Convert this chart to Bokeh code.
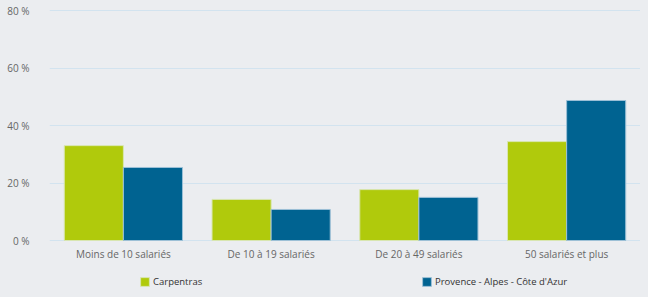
from bokeh.plotting import figure
from bokeh.models import ColumnDataSource, FactorRange, Range1d, Legend, LegendItem, FixedTicker, CustomJSTickFormatter
from bokeh.core.properties import value
from bokeh.transform import dodge
from bokeh.embed import file_html
from bokeh.resources import INLINE

categories = ["Moins de 10 salariés", "De 10 à 19 salariés", "De 20 à 49 salariés", "50 salariés et plus"]
carpentras = [33.0, 14.3, 17.7, 34.4]
paca = [25.4, 10.8, 15.0, 48.7]
series_names = ["Carpentras", "Provence - Alpes - Côte d'Azur"]
y_ticks = [0, 20, 40, 60, 80]

source = ColumnDataSource(dict(cat=categories, carp=carpentras, paca=paca, base=[0] * len(categories)))

p = figure(width=640, height=289, x_range=FactorRange(*categories, range_padding=0),
           y_range=Range1d(-17.04, 83.48), output_backend="svg", toolbar_location=None,
           min_border_left=49, min_border_right=0, min_border_top=0, min_border_bottom=0)
p.background_fill_color = "#ebedf0"
p.border_fill_color = "#ebedf0"
p.outline_line_color = None

g = p.vbar(x=dodge("cat", -0.2, range=p.x_range), top="carp", width=0.4, source=source,
           fill_color="#b0ca0c", line_color="#d8e6b0", line_width=1)
b = p.vbar(x=dodge("cat", 0.2, range=p.x_range), top="paca", width=0.4, source=source,
           fill_color="#006391", line_color="#9cc0d6", line_width=1)

p.text(x="cat", y="base", text="cat", source=source, text_align="center", text_baseline="top",
       y_offset=6, text_font=value("Open Sans"), text_font_size="10px", text_color="#666666")

p.xaxis.visible = False
p.xgrid.grid_line_color = None
p.ygrid.grid_line_color = "#d2e3ef"
p.ygrid.grid_line_width = 1
p.yaxis.ticker = FixedTicker(ticks=y_ticks)
p.yaxis.formatter = CustomJSTickFormatter(code="return tick + ' %'")
ax = p.yaxis[0]
ax.axis_line_color = None
ax.major_tick_line_color = None
ax.minor_tick_line_color = None
ax.major_label_text_font = "Open Sans"
ax.major_label_text_font_size = "10px"
ax.major_label_text_color = "#666666"
ax.major_label_standoff = 14

legend = Legend(items=[LegendItem(label=series_names[0], renderers=[g]),
                       LegendItem(label=series_names[1], renderers=[b])],
                orientation="horizontal", location=(90, 1),
                glyph_width=11, glyph_height=11, label_standoff=3, label_width=268,
                label_height=11, spacing=0, padding=0, margin=0,
                label_text_font="Open Sans", label_text_font_size="9.5px",
                label_text_color="#333333", background_fill_alpha=0, border_line_color=None)
p.add_layout(legend, "center")

html = file_html(p, INLINE)
html = html.replace("</head>", "<style>html,body{background:#ebedf0;}</style></head>", 1)
open("out.html", "w").write(html)
